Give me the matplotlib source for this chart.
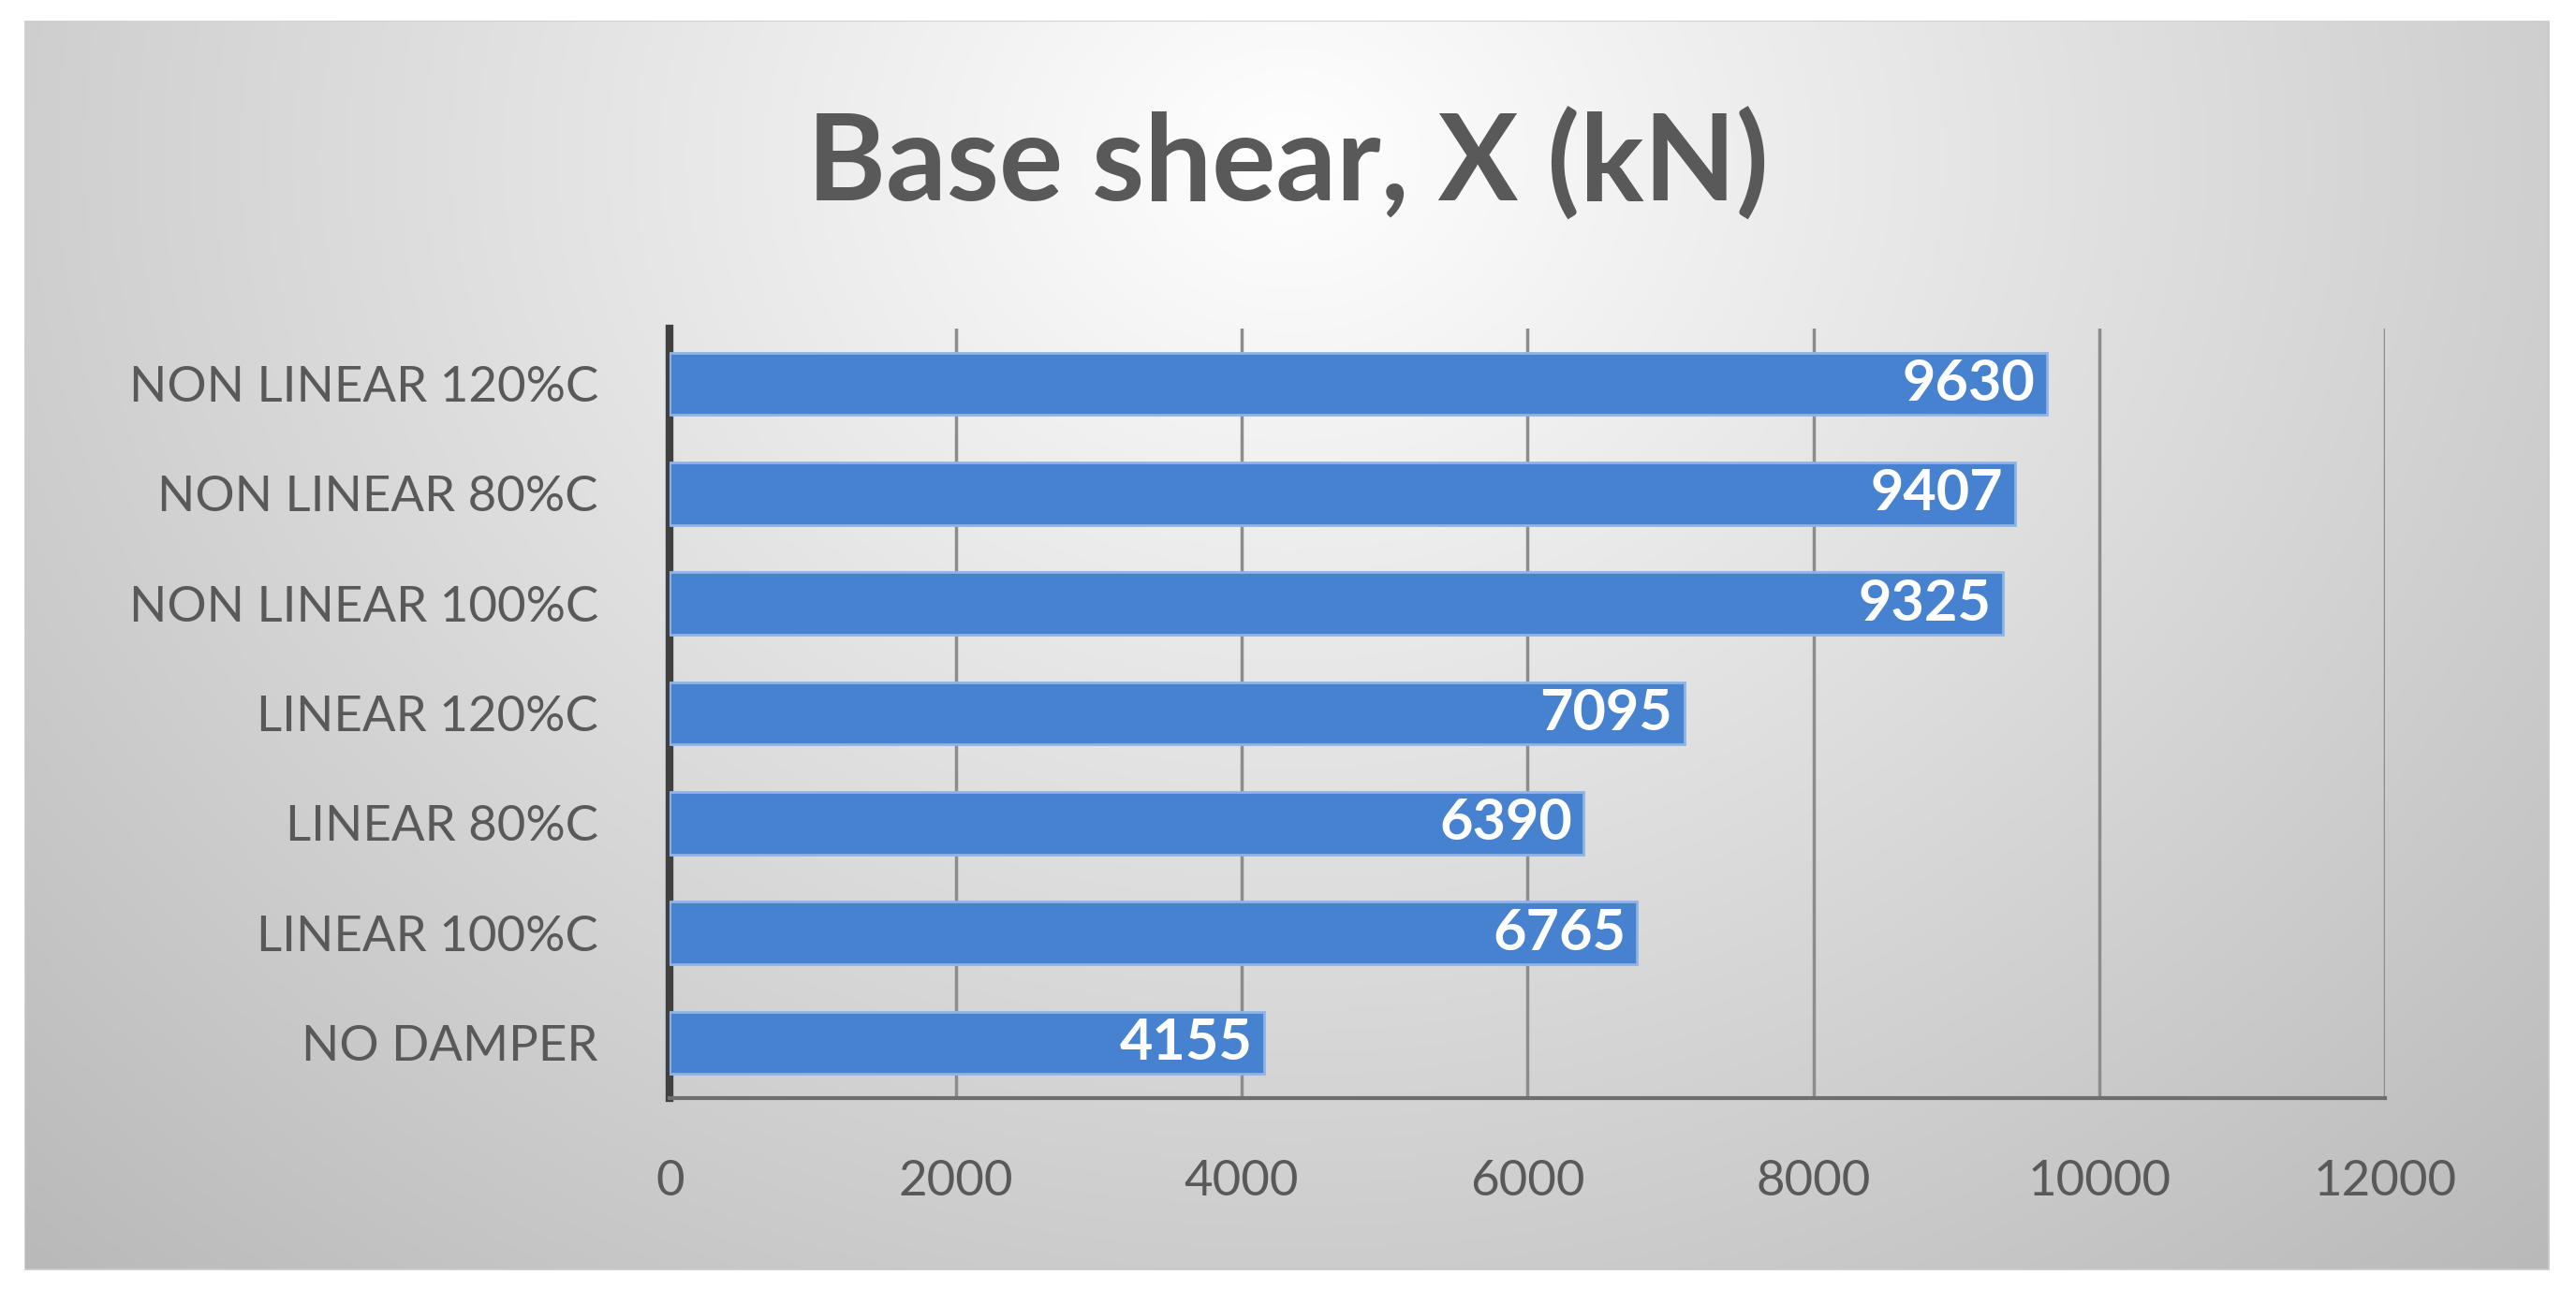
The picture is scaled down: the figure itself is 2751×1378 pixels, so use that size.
import matplotlib
matplotlib.use("Agg")
import matplotlib.pyplot as plt
import numpy as np
from matplotlib.patches import Rectangle

categories = ["NO DAMPER", "LINEAR 100%C", "LINEAR 80%C", "LINEAR 120%C",
              "NON LINEAR 100%C", "NON LINEAR 80%C", "NON LINEAR 120%C"]
values = [4155, 6765, 6390, 7095, 9325, 9407, 9630]
xticks = [0, 2000, 4000, 6000, 8000, 10000, 12000]

plt.rcParams['font.family'] = ['Lato', 'DejaVu Sans']
fig = plt.figure(figsize=(27.51, 13.78), dpi=100)

# radial gradient background
bg = fig.add_axes([0, 0, 1, 1], zorder=0)
h, w = 400, 800
yy, xx = np.mgrid[0:h, 0:w]
cx, cy = w * 0.5, h * 0.12
d = np.sqrt(((xx - cx) / w) ** 2 + ((yy - cy) / h * 0.6) ** 2)
d = np.clip(d / d.max(), 0, 1)
g = 1.0 - 0.28 * d
img = np.dstack([g, g, g])
bg.imshow(img, extent=[0, 1, 0, 1], aspect='auto', origin='upper')
bg.add_patch(Rectangle((0.009, 0.015), 0.981, 0.97, fill=False, ec='#c8c8c8', lw=3))
bg.set_xlim(0, 1); bg.set_ylim(0, 1); bg.axis('off')
# white outside frame
for r in [(0, 0, 1, 0.015), (0, 0.985, 1, 0.015), (0, 0, 0.009, 1), (0.99, 0, 0.01, 1)]:
    bg.add_patch(Rectangle(r[:2], r[2], r[3], color='white', zorder=3))

ax = fig.add_axes([0.260, 0.149, 0.666, 0.596], zorder=1)
ax.patch.set_alpha(0)
y = np.arange(len(categories))
ax.barh(y, values, height=0.57, color='#4782d0', edgecolor='#8fb4e6', lw=2, zorder=3)
for yi, v in zip(y, values):
    ax.text(v - 80, yi, str(v), ha='right', va='center', color='white',
            fontsize=44, fontweight='bold', zorder=4)
ax.set_xlim(0, 12000)
ax.set_ylim(-0.5, len(categories) - 0.5)
ax.set_yticks(y)
ax.set_yticklabels(categories, fontsize=38, color='#595959')
ax.set_xticks(xticks)
ax.set_xticklabels([str(t) for t in xticks], fontsize=38, color='#595959')
ax.tick_params(axis='both', length=0)
ax.tick_params(axis='x', pad=48)
ax.tick_params(axis='y', pad=55)
ax.grid(axis='x', color='#8c8c8c', lw=2.5, zorder=0)
for s in ['top', 'right']:
    ax.spines[s].set_visible(False)
ax.spines['left'].set_color('#404040'); ax.spines['left'].set_linewidth(6)
ax.spines['bottom'].set_color('#6e6e6e'); ax.spines['bottom'].set_linewidth(3)

fig.text(0.5, 0.872, "Base shear, X (kN)", ha='center', va='center',
         fontsize=92, fontweight='bold', color='#595959')
fig.savefig("out.png", dpi=100)
